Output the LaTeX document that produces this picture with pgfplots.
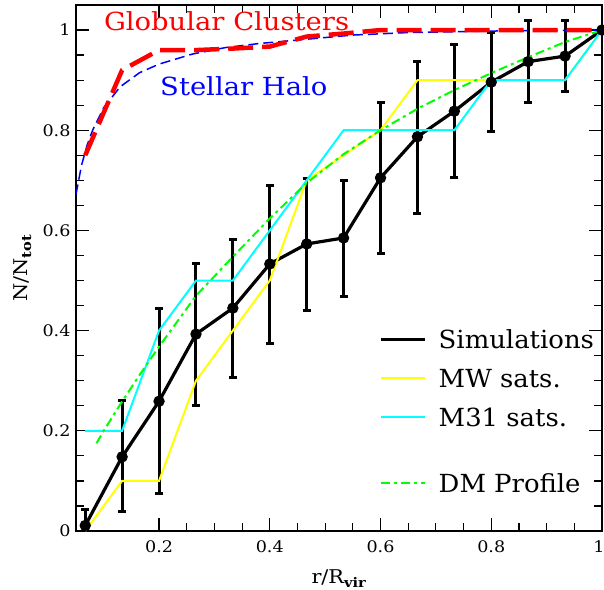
\documentclass[border=0pt]{standalone}
\usepackage{pgfplots}
\pgfplotsset{compat=1.18}
\usepackage{fontspec}
\setmainfont{DejaVu Serif}
\newfontfamily\widefont{DejaVu Serif}[FakeStretch=1.1]
\newfontfamily\legfont{DejaVu Serif}[FakeStretch=1.04]

\definecolor{smred}{RGB}{255,0,0}
\definecolor{smblue}{RGB}{0,0,255}
\definecolor{smgreen}{RGB}{0,255,0}
\definecolor{smyellow}{RGB}{255,255,0}
\definecolor{smcyan}{RGB}{0,255,255}

% simulations: mean fraction with upper / lower error
\pgfplotstableread{
x       y      ep     em
0.0667  0.011  0.031  0.031
0.1333  0.148  0.112  0.109
0.2000  0.259  0.186  0.185
0.2667  0.393  0.141  0.142
0.3333  0.445  0.137  0.138
0.4000  0.533  0.156  0.158
0.4667  0.573  0.130  0.132
0.5333  0.585  0.115  0.116
0.6000  0.705  0.150  0.152
0.6667  0.787  0.151  0.154
0.7333  0.838  0.134  0.133
0.8000  0.896  0.099  0.099
0.8667  0.937  0.083  0.082
0.9333  0.948  0.071  0.071
1.0000  1.000  0.000  0.000
}\simdata

\begin{document}
\begin{tikzpicture}
% page = 604 x 590, axis box lower-left at the origin
\useasboundingbox (-76bp,-59bp) rectangle (528bp,531bp);
\begin{axis}[
    at={(0,0)}, anchor=south west,
    scale only axis,
    width=526bp, height=526bp,
    xmin=0.05, xmax=1, ymin=0, ymax=1.05,
    xtick={0.2,0.4,0.6,0.8,1}, ytick={0,0.2,0.4,0.6,0.8,1},
    xticklabels={0.2,0.4,0.6,0.8,\hspace*{-6bp}1},
    minor x tick num=3, minor y tick num=3,
    xtick pos=both, ytick pos=both,
    xticklabel pos=lower, yticklabel pos=left,
    tick align=inside,
    major tick length=13bp, minor tick length=8bp,
    axis line style={line width=1.5bp},
    every tick/.style={black, line width=1.2bp},
    /pgf/number format/assume math mode=true,
    tick label style={font=\widefont\fontsize{16}{16}\selectfont},
    xticklabel style={yshift=-6bp},
    yticklabel style={xshift=-2bp},
    every axis x label/.style={at={(axis description cs:0.5,0)}, anchor=base, yshift=-52bp},
    every axis y label/.style={at={(axis description cs:0,0.5)}, rotate=90, anchor=base, yshift=48bp},
    label style={font=\widefont\fontsize{19}{19}\selectfont},
    xlabel={r/R\textsubscript{\textbf{vir}}},
    ylabel={N/N\textsubscript{\textbf{tot}}},
    legend image code/.code={\draw[#1] (0bp,0bp) -- (44bp,0bp);},
    legend style={at={(axis cs:0.5982,0.401)}, anchor=north west,
        draw=none, fill=none, inner sep=0pt, outer sep=0pt,
        row sep=21bp, column sep=12bp,
        font=\legfont\fontsize{25}{25}\selectfont,
        nodes={inner sep=0pt, text height=18bp, text depth=0bp},
        cells={anchor=west}},
]

\addplot[black, line width=3.2bp, mark=*, mark size=4bp,
    error bars/.cd, y dir=both, y explicit,
    error bar style={line width=3bp},
    error mark options={black, line width=3bp, mark size=4bp, rotate=90}]
    table[x=x, y=y, y error plus=ep, y error minus=em] {\simdata};
\addlegendentry{Simulations}

\addplot[smyellow, line width=2bp] coordinates {
    (0.0667,0) (0.1333,0.1) (0.2,0.1) (0.2667,0.3) (0.3333,0.4) (0.4,0.5)
    (0.4667,0.7) (0.5333,0.75) (0.6,0.8) (0.6667,0.9) (0.7333,0.9) (0.8,0.9)
    (0.8667,0.9) (0.9333,0.9) (1,1)};
\addlegendentry{MW sats.}

\addplot[smcyan, line width=2bp] coordinates {
    (0.0667,0.2) (0.1333,0.2) (0.2,0.4) (0.2667,0.5) (0.3333,0.5) (0.4,0.6)
    (0.4667,0.7) (0.5333,0.8) (0.6,0.8) (0.6667,0.8) (0.7333,0.8) (0.8,0.9)
    (0.8667,0.9) (0.9333,0.9) (1,1)};
\addlegendentry{M31 sats.}

\addlegendimage{empty legend}
\addlegendentry[text height=6bp]{}

\addplot[smgreen, line width=2bp, dash pattern=on 9bp off 4bp on 3bp off 4bp] coordinates {
    (0.087,0.175) (0.1,0.2) (0.133,0.258) (0.167,0.315) (0.2,0.368)
    (0.267,0.47) (0.333,0.547) (0.4,0.624) (0.467,0.695) (0.533,0.752)
    (0.6,0.8) (0.667,0.843) (0.733,0.88) (0.8,0.914) (0.867,0.946)
    (0.933,0.976) (1,1)};
\addlegendentry{DM Profile}

\addplot[smblue, line width=1.5bp, dash pattern=on 10bp off 5bp, forget plot] coordinates {
    (0.05,0.672) (0.06,0.73) (0.07,0.77) (0.08,0.80) (0.1,0.845)
    (0.13,0.887) (0.165,0.915) (0.2,0.932) (0.26,0.952) (0.32,0.965)
    (0.38,0.973) (0.45,0.98) (0.55,0.99) (0.65,0.995) (0.8,0.998) (1,1)};

\addplot[smred, line width=4.5bp, dash pattern=on 25bp off 9bp, forget plot] coordinates {
    (0.0667,0.75) (0.1333,0.92) (0.2,0.96) (0.2667,0.96) (0.3333,0.963)
    (0.4,0.967) (0.4667,0.987) (0.5333,0.993) (0.6,1) (0.6667,1) (0.7333,1)
    (0.8,1) (0.8667,1) (0.9333,1) (1,1)};

\node[anchor=base west, text=smred, font=\widefont\fontsize{25}{25}\selectfont, inner sep=0pt]
    at (axis cs:0.1003,1.0) {Globular Clusters};
\node[anchor=base west, text=smblue, font=\widefont\fontsize{25}{25}\selectfont, inner sep=0pt]
    at (axis cs:0.2018,0.870) {Stellar Halo};
\end{axis}
\end{tikzpicture}
\end{document}
